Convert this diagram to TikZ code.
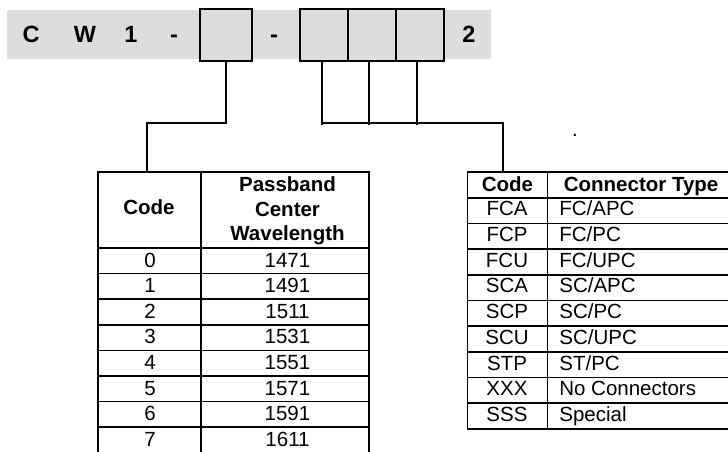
\documentclass[tikz,border=0pt]{standalone}
\usepackage{fontspec}
\setmainfont{Liberation Sans}
\definecolor{bargray}{RGB}{221,221,221}
\begin{document}
\begin{tikzpicture}[x=1pt,y=-1pt,line width=1.7pt,
  cell/.style={font=\fontsize{20.5}{24}\selectfont,anchor=base,inner sep=0pt},
  lcell/.style={cell,anchor=base west},
  hcell/.style={cell,font=\fontsize{20.5}{24}\selectfont\bfseries},
  toptext/.style={font=\fontsize{23.5}{28}\selectfont\bfseries,anchor=base,inner sep=0pt},
  slot/.style={draw,fill=bargray,minimum height=51.7pt,inner sep=0pt,outer sep=0pt,anchor=north west}]
\useasboundingbox (0,0) rectangle (728,451);
% top code bar
\fill[bargray] (6.7,9.5) rectangle (490.7,59.3);
\node[slot,minimum width=52pt] (b1) at (200,9) {};
\node[slot,minimum width=48pt] (b2) at (300,9) {};
\node[slot,minimum width=48pt] (b3) at (348,9) {};
\node[slot,minimum width=48pt] (b4) at (396,9) {};
\node[toptext] (tC) at (31,42.7) {C};
\node[toptext] (tW) at (85,42.7) {W};
\node[toptext] (t1) at (131,42.7) {1};
\node[toptext] (td1) at (174,42.7) {-};
\node[toptext] (td2) at (274,42.7) {-};
\node[toptext] (t2) at (469,42.7) {2};
% connectors
\coordinate (ltop) at (147.3,172);
\coordinate (rtop) at (502.7,172);
\draw (b1.south) -- ++(0,62.3) -| (ltop);
\draw (b2.south) ++(-2.3,0) -- ++(0,64.6);
\draw (b3.south) ++(-2.7,0) -- ++(0,64.6);
\draw (b4.south) ++(-2.7,0) -- ++(0,64.6);
\draw (b2.south) ++(-2.3,62.6) -| (rtop);
\node[cell] (dot) at (575,136) {.};
% left table
\draw (98,172) rectangle (369,452.8);
\draw (201,172) -- (201,452.8);
\foreach \k in {0,...,7} \draw (98,248+25.6*\k) -- (369,248+25.6*\k);
\node[hcell] (lh1) at (149,214) {Code};
\node[hcell] (lh2a) at (287.5,191) {Passband};
\node[hcell] (lh2b) at (287.5,216) {Center};
\node[hcell] (lh2c) at (287.5,240.5) {Wavelength};
\foreach \c/\v [count=\i from 0] in {0/1471,1/1491,2/1511,3/1531,4/1551,5/1571,6/1591,7/1611}{
  \node[cell] (lc\i) at (150,248+25.6*\i+19) {\c};
  \node[cell] (lv\i) at (287.5,248+25.6*\i+19) {\v};
}
% right table
\draw (740,172) -- (467.5,172) -- (467.5,429) -- (740,429);
\draw (547.5,172) -- (547.5,429);
\draw (740,172) -- (740,429);
\foreach \k in {1,...,9} \draw (467.5,172+25.7*\k) -- (740,172+25.7*\k);
\node[hcell] (rh1) at (507.5,191.4) {Code};
\node[hcell,anchor=base west] (rh2) at (563,191.4) {Connector Type};
\foreach \c/\t [count=\i from 1] in {FCA/FC\slash APC,FCP/FC\slash PC,FCU/FC\slash UPC,SCA/SC\slash APC,SCP/SC\slash PC,SCU/SC\slash UPC,STP/ST\slash PC,XXX/No Connectors,SSS/Special}{
  \node[cell] (rc\i) at (507,172+25.7*\i+18.15) {\c};
  \node[lcell] (rt\i) at (558.5,172+25.7*\i+18.15) {\t};
}
\end{tikzpicture}
\end{document}
